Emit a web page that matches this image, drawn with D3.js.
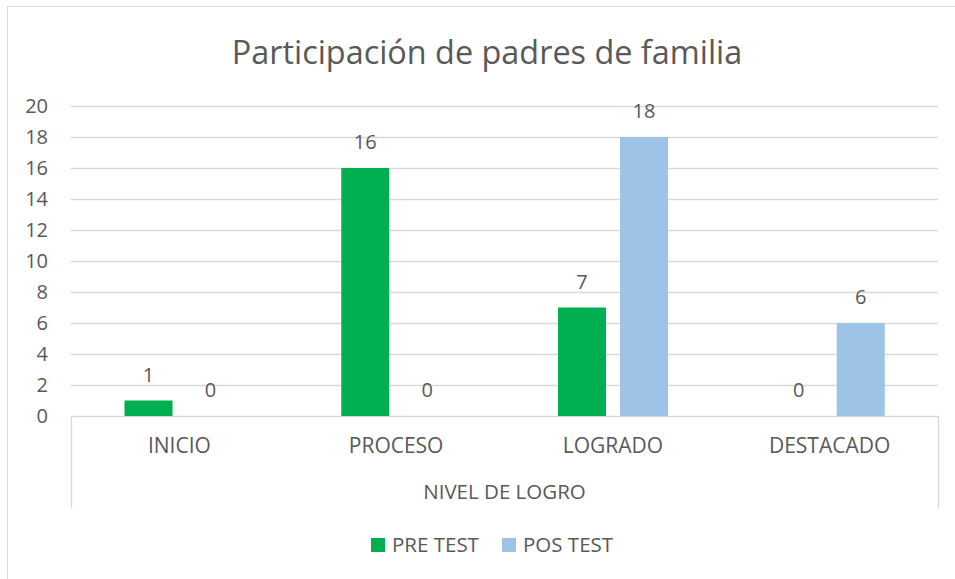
<!DOCTYPE html>
<html>
<head>
<meta charset="utf-8">
<script src="https://cdn.jsdelivr.net/npm/d3@7"></script>
<style>
  body { margin: 0; background: #fff; }
  text { font-family: "Open Sans", "Liberation Sans", sans-serif; fill: #595959; }
</style>
</head>
<body>
<div id="chart"></div>
<script>
// Chart data
const categories = ["INICIO", "PROCESO", "LOGRADO", "DESTACADO"]
const seriesNames = ["PRE TEST", "POS TEST"]
const preTest = [1, 16, 7, 0]
const posTest = [0, 0, 18, 6]
const yTicks = [0, 2, 4, 6, 8, 10, 12, 14, 16, 18, 20]
const colors = ["#00B050", "#9DC3E6"]

const W = 955, H = 579
const margin = { top: 106, right: 17, bottom: 163, left: 71 }
const width = W - margin.left - margin.right,
    height = H - margin.top - margin.bottom

const svg = d3.select("#chart").append("svg")
    .attr("width", W)
    .attr("height", H)

// Outer chart frame
svg.append("rect")
    .attr("x", 7.5).attr("y", 6.5)
    .attr("width", W).attr("height", H)
    .attr("fill", "none")
    .attr("stroke", "#d9d9d9")

// Title
svg.append("text")
    .attr("x", 487).attr("y", 64)
    .attr("text-anchor", "middle")
    .attr("font-size", 32.4)
    .text("Participación de padres de familia")

const g = svg.append("g").attr("transform", `translate(${margin.left},${margin.top})`)

const x0 = d3.scaleBand().domain(categories).range([0, width])
const x1 = d3.scaleBand().domain(seriesNames).range([53.5, 163.5]).paddingInner(0.2258)
const y = d3.scaleLinear().domain([0, 20]).range([height, 0])

// Gridlines
g.append("g")
    .selectAll("line")
    .data(yTicks)
    .enter()
    .append("line")
    .attr("x1", 0).attr("x2", width)
    .attr("y1", d => Math.round(y(d)) + 0.5)
    .attr("y2", d => Math.round(y(d)) + 0.5)
    .attr("stroke", "#d9d9d9")
    .attr("stroke-width", 1.3)

// Y axis labels
const yAxis = g.append("g")
    .call(d3.axisLeft(y).tickValues(yTicks).tickSize(0).tickPadding(23))
yAxis.select(".domain").remove()
yAxis.selectAll("text")
    .attr("font-size", 20)
    .attr("fill", "#595959")
    .style("font-family", "'Open Sans', sans-serif")

// Category axis with box lines
const xAxis = g.append("g")
    .attr("transform", `translate(0,${height})`)
    .call(d3.axisBottom(x0).tickSize(0).tickPadding(22))
xAxis.select(".domain").remove()
xAxis.selectAll("text")
    .attr("font-size", 21)
    .attr("fill", "#595959")
    .style("font-family", "'Open Sans', sans-serif")

g.selectAll(".boxline")
    .data([0, width])
    .enter()
    .append("line")
    .attr("x1", d => d + 0.5).attr("x2", d => d + 0.5)
    .attr("y1", height).attr("y2", height + 92)
    .attr("stroke", "#d9d9d9")
    .attr("stroke-width", 1.3)

// Axis title
g.append("text")
    .attr("x", width / 2).attr("y", height + 83)
    .attr("text-anchor", "middle")
    .attr("font-size", 20.5)
    .text("NIVEL DE LOGRO")

// Bars
const rows = categories.map((c, i) => ({ cat: c, values: [preTest[i], posTest[i]] }))

const groups = g.selectAll(".cat")
    .data(rows)
    .enter()
    .append("g")
    .attr("transform", d => `translate(${x0(d.cat)},0)`)

groups.selectAll("rect")
    .data(d => d.values.map((v, j) => ({ name: seriesNames[j], value: v, j: j })))
    .enter()
    .append("rect")
    .attr("x", d => x1(d.name))
    .attr("y", d => y(d.value))
    .attr("width", x1.bandwidth())
    .attr("height", d => height - y(d.value))
    .attr("fill", d => colors[d.j])

// Value labels
groups.selectAll(".val")
    .data(d => d.values.map((v, j) => ({ name: seriesNames[j], value: v })))
    .enter()
    .append("text")
    .attr("x", d => x1(d.name) + x1.bandwidth() / 2)
    .attr("y", d => y(d.value) - 26)
    .attr("text-anchor", "middle")
    .attr("dy", "0.35em")
    .attr("font-size", 20)
    .attr("fill", "#404040")
    .text(d => d.value)

// Legend
const legend = svg.append("g")
    .selectAll("g")
    .data(seriesNames)
    .enter()
    .append("g")
    .attr("transform", (d, i) => `translate(${371 + i * 131},538)`)

legend.append("rect")
    .attr("width", 14).attr("height", 14)
    .attr("fill", (d, i) => colors[i])

legend.append("text")
    .attr("x", 21).attr("y", 7)
    .attr("dy", "0.35em")
    .attr("font-size", 20.5)
    .text(d => d)
</script>
</body>
</html>
